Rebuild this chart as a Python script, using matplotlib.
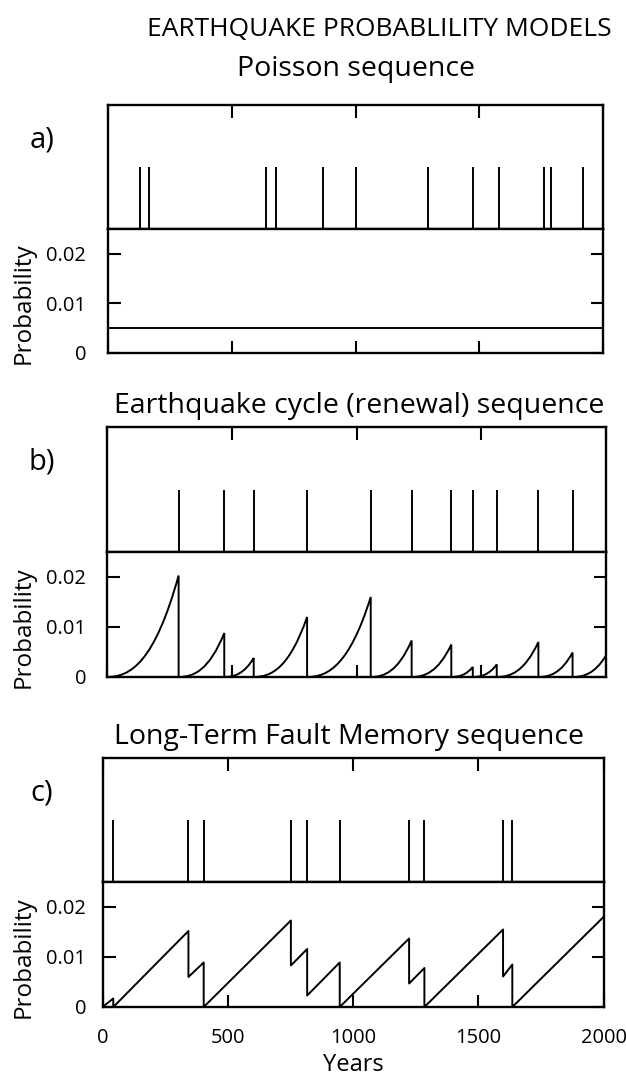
import matplotlib
matplotlib.use("Agg")
import matplotlib.pyplot as plt
from matplotlib.path import Path
from matplotlib.patches import PathPatch

plt.rcParams['font.family'] = ['Open Sans', 'DejaVu Sans']

# ---- data ----
years_max = 2000

# a) Poisson sequence: event years and constant probability
poisson_events = [128, 164, 638, 678, 867, 1001, 1293, 1475, 1579, 1762, 1788, 1920]
poisson_prob = 0.005

# b) renewal sequence: event years, probability reached just before each event
renewal_events = [287, 470, 588, 802, 1057, 1221, 1380, 1466, 1562, 1729, 1866]
renewal_peaks = [0.0203, 0.0088, 0.0038, 0.0120, 0.0160, 0.0073, 0.0065,
                 0.0020, 0.0025, 0.0070, 0.0049]
renewal_end = 0.0043

# c) long-term fault memory: event years, probability before / after each event
memory_events = [43, 343, 404, 752, 817, 947, 1224, 1285, 1599, 1636]
memory_before = [0.0017, 0.0152, 0.0089, 0.0173, 0.0116, 0.0089, 0.0137,
                 0.0078, 0.0155, 0.0085]
memory_after = [0.0, 0.0060, 0.0, 0.0083, 0.0023, 0.0, 0.0047, 0.0, 0.0061, 0.0]
memory_end = 0.0180

xticks = [0, 500, 1000, 1500, 2000]
yticks = [0, 0.01, 0.02]
ytick_labels = ['0', '0.01', '0.02']

W, H = 626, 1077
fig = plt.figure(figsize=(W / 100, H / 100), dpi=100)

LW_SPINE = 1.7
LW = 1.4
TICK_FS = 14.5


def px_axes(x0, x1, y0, y1):
    return fig.add_axes([x0 / W, 1 - y1 / H, (x1 - x0) / W, (y1 - y0) / H])


def make_panel(x0, x1, top, mid, bot, letter, events, last=False):
    ev = px_axes(x0, x1, top, mid)
    pr = px_axes(x0, x1, mid, bot)

    ev.vlines(events, 0, 0.5, color='k', lw=LW)
    ev.set_xlim(0, years_max)
    ev.set_ylim(0, 1)
    ev.set_yticks([])
    ev.set_xticks(xticks)
    ev.tick_params(axis='x', direction='in', top=True, bottom=False,
                   labelbottom=False, length=9, width=1.5)

    pr.set_xlim(0, years_max)
    pr.set_ylim(0, 0.025)
    pr.set_xticks(xticks)
    pr.set_yticks(yticks)
    pr.set_yticklabels(ytick_labels)
    # tick labels end at the same page position (~85 px) in every panel
    pr.tick_params(axis='y', direction='in', left=True, right=True,
                   length=9, width=1.5, labelsize=TICK_FS,
                   pad=(x0 - 86) * 0.72)
    pr.tick_params(axis='x', direction='in', top=False, bottom=True,
                   length=9, width=1.5, labelsize=TICK_FS, pad=15,
                   labelbottom=last)
    for a in (ev, pr):
        for s in a.spines.values():
            s.set_linewidth(LW_SPINE)

    fig.text(42 / W, 1 - (top + 35) / H, letter, fontsize=21,
             ha='center', va='center')
    fig.text(24 / W, 1 - (mid + 0.6 * (bot - mid)) / H, 'Probability',
             fontsize=17.5, rotation=90, ha='center', va='center')
    return ev, pr


# ---- a) Poisson ----
ev_a, pr_a = make_panel(108, 603, 105, 229, 353, 'a)', poisson_events)
pr_a.axhline(poisson_prob, color='k', lw=LW)

# ---- b) renewal ----
ev_b, pr_b = make_panel(107, 606, 427, 552, 677, 'b)', renewal_events)
starts = [0] + renewal_events
ends = renewal_events + [years_max]
peaks = renewal_peaks + [renewal_end]
verts = [(0, 0)]
codes = [Path.MOVETO]
for t0, t1, p in zip(starts, ends, peaks):
    d = t1 - t0
    verts += [(t0 + d / 3, 0), (t0 + 2 * d / 3, 0.15 * p), (t1, p)]
    codes += [Path.CURVE4] * 3
    if t1 < years_max:
        verts.append((t1, 0))
        codes.append(Path.LINETO)
pr_b.add_patch(PathPatch(Path(verts, codes), fill=False, color='k', lw=LW))

# ---- c) long-term fault memory ----
ev_c, pr_c = make_panel(102.5, 603.5, 758, 882, 1007, 'c)', memory_events,
                        last=True)
mx, my = [0], [0]
for yr, b, a in zip(memory_events, memory_before, memory_after):
    mx += [yr, yr]
    my += [b, a]
mx.append(years_max)
my.append(memory_end)
pr_c.plot(mx, my, color='k', lw=LW)
pr_c.set_xticklabels([str(v) for v in xticks])
pr_c.set_xlabel('Years', fontsize=17, labelpad=4)

# ---- titles ----
fig.text(612 / W, 1 - 36 / H, 'EARTHQUAKE PROBABLILITY MODELS', fontsize=19,
         ha='right', va='baseline')
fig.text(356 / W, 1 - 76 / H, 'Poisson sequence', fontsize=20.5,
         ha='center', va='baseline')
fig.text(359 / W, 1 - 413 / H, 'Earthquake cycle (renewal) sequence',
         fontsize=20.5, ha='center', va='baseline')
fig.text(349 / W, 1 - 744 / H, 'Long-Term Fault Memory sequence',
         fontsize=20.5, ha='center', va='baseline')

fig.savefig('out.png', dpi=100)
